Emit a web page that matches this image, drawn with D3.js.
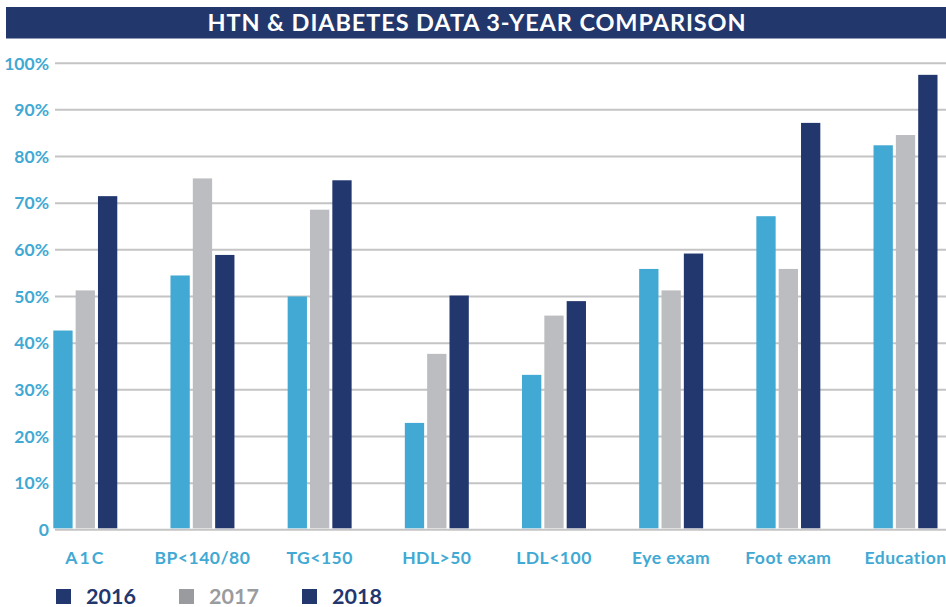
<!DOCTYPE html>
<html>
<head>
<meta charset="utf-8">
<script src="https://cdn.jsdelivr.net/npm/d3@7"></script>
<style>
  html, body { margin: 0; padding: 0; background: #ffffff; }
  svg { display: block; }
  text { font-family: "Lato", "Open Sans", sans-serif; font-weight: 700; }
</style>
</head>
<body>
<svg id="chart" width="946" height="607"></svg>
<script>
// ---- data ----
const title = "HTN & DIABETES DATA 3-YEAR COMPARISON";
const categories = ["A1C", "BP<140/80", "TG<150", "HDL>50", "LDL<100", "Eye exam", "Foot exam", "Education"];
const years = ["2016", "2017", "2018"];
const values2016 = [42.6, 54.4, 49.9, 22.8, 33.1, 55.8, 67.1, 82.3];
const values2017 = [51.2, 75.2, 68.5, 37.6, 45.8, 51.2, 55.8, 84.5];
const values2018 = [71.4, 58.8, 74.8, 50.1, 48.9, 59.1, 87.1, 97.4];
const yTicks = [0, 10, 20, 30, 40, 50, 60, 70, 80, 90, 100];
const yTickLabels = ["0", "10%", "20%", "30%", "40%", "50%", "60%", "70%", "80%", "90%", "100%"];

// ---- styling ----
const barColors = { "2016": "#41a9d3", "2017": "#bcbdc0", "2018": "#22376e" };
const legendSwatch = { "2016": "#22376e", "2017": "#9a9b9e", "2018": "#22376e" };
const legendText = { "2016": "#22376e", "2017": "#9a9b9e", "2018": "#22376e" };
const labelBlue = "#41a9d3";
const navy = "#22376c";

const series = { "2016": values2016, "2017": values2017, "2018": values2018 };
const rows = categories.map((c, i) => ({ cat: c, vals: years.map(y => ({ year: y, value: series[y][i] })) }));

const svg = d3.select("#chart");
const W = 946, H = 607;

// title banner
svg.append("rect").attr("x", 6).attr("y", 7).attr("width", W - 6).attr("height", 31.5).attr("fill", navy);
svg.append("text").attr("x", 477).attr("y", 30.5).attr("text-anchor", "middle")
  .attr("fill", "#ffffff").attr("font-size", 23.5).attr("letter-spacing", 0.9).text(title);

// scales
const y = d3.scaleLinear().domain([0, 100]).range([529.3, 62.7]);
const x = d3.scaleBand().domain(categories).range([53.3, 937.5]).paddingInner(0.454).paddingOuter(0);
const xInner = d3.scaleBand().domain(years).range([0, x.bandwidth()]).paddingInner(0.136).paddingOuter(0);

// gridlines via axis
const grid = svg.append("g").attr("transform", "translate(55,0)")
  .call(d3.axisRight(y).tickValues(yTicks).tickSize(W - 55).tickFormat(""));
grid.select(".domain").remove();
grid.selectAll(".tick line").attr("stroke", "#c4c4c4").attr("stroke-width", 2);

// y tick labels
const yAxis = svg.append("g").attr("transform", "translate(49,0)")
  .call(d3.axisLeft(y).tickValues(yTicks).tickSize(0).tickPadding(0)
    .tickFormat((d, i) => yTickLabels[i]));
yAxis.select(".domain").remove();
yAxis.selectAll(".tick text")
  .attr("fill", labelBlue).attr("font-size", 17.5)
  .attr("font-family", "Lato, 'Open Sans', sans-serif").attr("font-weight", 700)
  .attr("dy", "0.36em");

// bars
const groups = svg.append("g").selectAll("g").data(rows).join("g")
  .attr("transform", d => `translate(${x(d.cat)},0)`);
groups.selectAll("rect").data(d => d.vals).join("rect")
  .attr("x", d => xInner(d.year))
  .attr("y", d => y(d.value))
  .attr("width", xInner.bandwidth())
  .attr("height", d => y(0) - y(d.value) - 1)
  .attr("fill", d => barColors[d.year]);

// category labels
const xAxis = svg.append("g").attr("transform", "translate(0,564)")
  .call(d3.axisBottom(x).tickSize(0).tickPadding(0));
xAxis.select(".domain").remove();
xAxis.selectAll(".tick text")
  .attr("fill", labelBlue).attr("font-size", 17.5)
  .attr("font-family", "Lato, 'Open Sans', sans-serif").attr("font-weight", 700)
  .attr("y", 0).attr("dy", 0)
  .attr("letter-spacing", d => d === "A1C" ? 2 : 0.5);

// legend
const lx = d3.scalePoint().domain(years).range([56, 302]);
const leg = svg.append("g").selectAll("g").data(years).join("g")
  .attr("transform", d => `translate(${lx(d)},0)`);
leg.append("rect").attr("x", 0).attr("y", 589).attr("width", 15).attr("height", 15)
  .attr("fill", d => legendSwatch[d]);
leg.append("text").attr("x", 30).attr("y", 603.5).attr("font-size", 21.5)
  .attr("fill", d => legendText[d]).text(d => d);
</script>
</body>
</html>
